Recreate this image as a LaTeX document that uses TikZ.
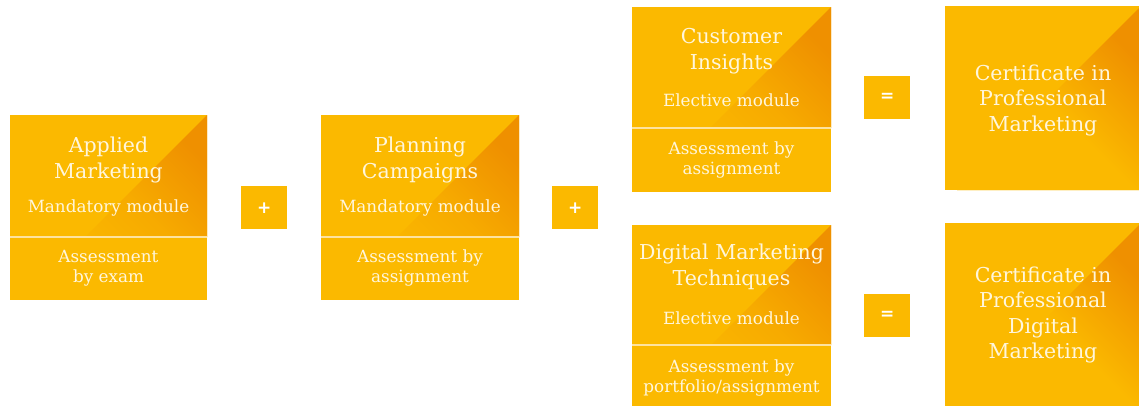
\documentclass[tikz,border=0pt]{standalone}
\usepackage{fontspec}
\setmainfont{DejaVu Serif}
\setsansfont{DejaVu Sans}
\definecolor{base}{HTML}{FBB900}
\definecolor{dark}{HTML}{EF9000}
\definecolor{txt}{HTML}{FFF6DC}
\definecolor{divc}{HTML}{FDE2A0}
\tikzset{
  panel/.style={fill=base, draw=none, inner sep=0pt, anchor=north west, outer sep=0pt},
  corner/.style 2 args={path picture={\fill[top color=base, bottom color=dark, middle color=dark!#2!base, shading angle=135]
      (path picture bounding box.north east) -- ++(-#1,#1) -- ++(#1,0) -- cycle;}},
  divider/.style={draw=divc, line width=1.6pt},
  title/.style={text=txt, align=center, font=\fontsize{20.5}{25.5}\selectfont, inner sep=0pt},
  sub/.style={text=txt, align=center, font=\fontsize{16.8}{20}\selectfont, inner sep=0pt},
  opbox/.style={fill=base, inner sep=0pt, anchor=north west, minimum width=46pt, minimum height=43pt,
      text=white, font=\sffamily\bfseries\fontsize{17}{17}\selectfont},
}
\begin{document}
\begin{tikzpicture}[x=1pt,y=-1pt]
\useasboundingbox (0,0) rectangle (1139,405);
% module 1
\node[panel, minimum width=197pt, minimum height=122pt, corner={122}{35}] (m1t) at (10,115) {};
\node[panel, minimum width=197pt, minimum height=63pt] (m1b) at (10,237) {};
\draw[divider] (m1b.north west) -- (m1b.north east);
\node[title] (m1n) at (108.5,160) {Applied\\Marketing};
\node[sub] (m1s) at (108.5,208) {Mandatory module};
\node[sub] (m1a) at (108.5,268) {Assessment\\by exam};
% plus 1
\node[opbox] (p1) at (241,186) {+};
% module 2
\node[panel, minimum width=198pt, minimum height=122pt, corner={122}{35}] (m2t) at (321,115) {};
\node[panel, minimum width=198pt, minimum height=63pt] (m2b) at (321,237) {};
\draw[divider] (m2b.north west) -- (m2b.north east);
\node[title] (m2n) at (420,160) {Planning\\Campaigns};
\node[sub] (m2s) at (420,208) {Mandatory module};
\node[sub] (m2a) at (420,268) {Assessment by\\assignment};
% plus 2
\node[opbox] (p2) at (552,186) {+};
% module 3
\node[panel, minimum width=199pt, minimum height=121pt, corner={121}{35}] (m3t) at (632,7) {};
\node[panel, minimum width=199pt, minimum height=64pt] (m3b) at (632,128) {};
\draw[divider] (m3b.north west) -- (m3b.north east);
\node[title] (m3n) at (731.5,51) {Customer\\Insights};
\node[sub] (m3s) at (731.5,100) {Elective module};
\node[sub] (m3a) at (731.5,160) {Assessment by\\assignment};
% equals 1
\node[opbox] (e1) at (864,76) {=};
% module 4
\node[panel, minimum width=199pt, minimum height=120pt, corner={120}{35}] (m4t) at (632,225) {};
\node[panel, minimum width=199pt, minimum height=62pt] (m4b) at (632,345) {};
\draw[divider] (m4b.north west) -- (m4b.north east);
\node[title] (m4n) at (731.5,267) {Digital Marketing\\Techniques};
\node[sub] (m4s) at (731.5,318) {Elective module};
\node[sub] (m4a) at (731.5,378) {Assessment by\\portfolio/assignment};
% equals 2
\node[opbox] (e2) at (864,294) {=};
% certificates
\node[panel, minimum width=196pt, minimum height=184pt, corner={184}{0}] (c1) at (945,6) {};
\node[title] (c1n) at (1043,100) {Certificate in\\Professional\\Marketing};
\node[panel, minimum width=196pt, minimum height=184pt, corner={184}{0}] (c2) at (945,223) {};
\node[title] (c2n) at (1043,315) {Certificate in\\Professional\\Digital\\Marketing};
\end{tikzpicture}
\end{document}
